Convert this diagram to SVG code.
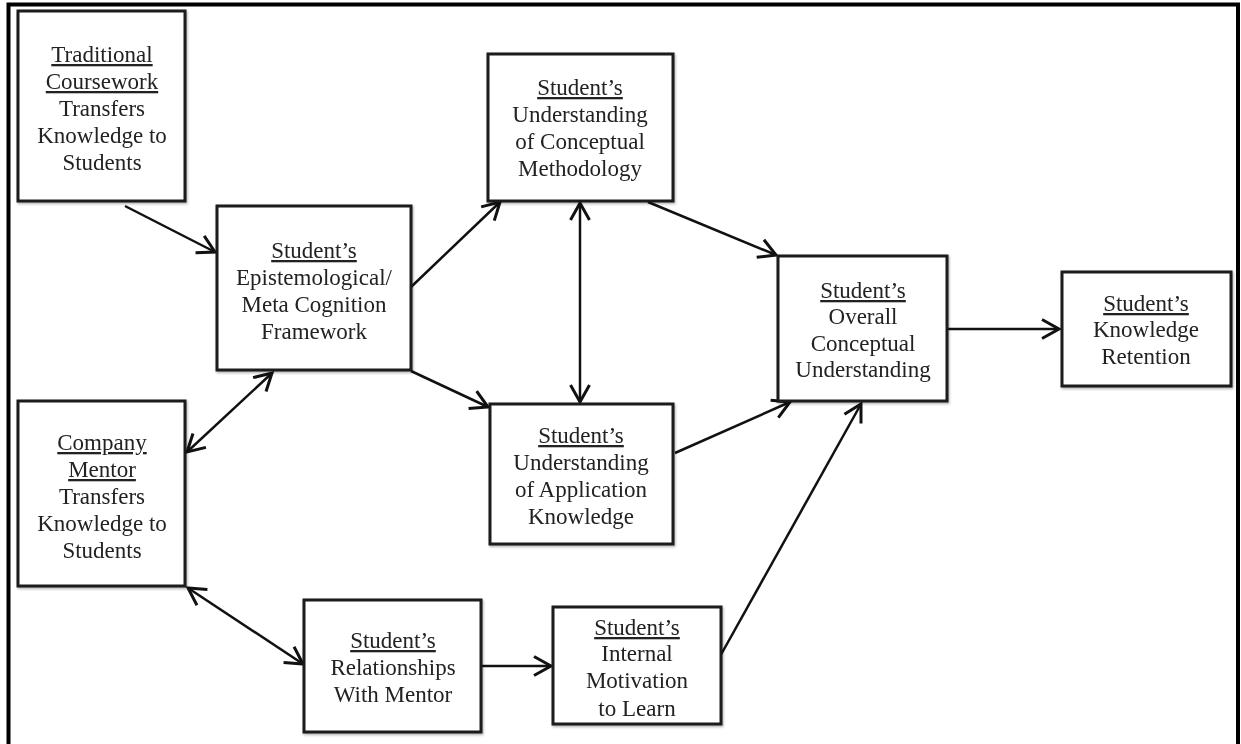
<svg xmlns="http://www.w3.org/2000/svg" width="1241" height="744" viewBox="0 0 1241 744">
  <style>
    .box { fill: #ffffff; stroke: #1a1a1a; stroke-width: 3; }
    .t { font-family: "Liberation Serif", "Times New Roman", serif; font-size: 23px; fill: #222222; text-anchor: middle; }
    .u { text-decoration: underline; }
    .c { fill: none; stroke: #111111; stroke-width: 2.5; }
  </style>
  <defs>
    <marker id="ah" viewBox="-20 -12 24 24" refX="0" refY="0" markerWidth="24" markerHeight="24" markerUnits="userSpaceOnUse" orient="auto-start-reverse">
      <path d="M-17,-9.5 L0,0 L-17,9.5" fill="none" stroke="#111111" stroke-width="3" stroke-linejoin="miter"/>
    </marker>
    <filter id="sh" x="-10%" y="-10%" width="120%" height="120%">
      <feDropShadow dx="1" dy="1.5" stdDeviation="1.2" flood-color="#000000" flood-opacity="0.3"/>
    </filter>
  </defs>
  <rect x="0" y="0" width="1241" height="744" fill="#ffffff"/>
  <rect x="8.5" y="4.5" width="1229.5" height="760" fill="none" stroke="#000000" stroke-width="4"/>

  <g id="connectors">
    <line class="c" x1="125" y1="206" x2="215" y2="252" marker-end="url(#ah)"/>
    <line class="c" x1="411" y1="287" x2="500" y2="202" marker-end="url(#ah)"/>
    <line class="c" x1="411" y1="371" x2="488" y2="407" marker-end="url(#ah)"/>
    <line class="c" x1="580" y1="203" x2="580" y2="402" marker-start="url(#ah)" marker-end="url(#ah)"/>
    <line class="c" x1="648" y1="202" x2="776" y2="255" marker-end="url(#ah)"/>
    <line class="c" x1="675" y1="453" x2="790" y2="402" marker-end="url(#ah)"/>
    <line class="c" x1="947" y1="329" x2="1059" y2="329" marker-end="url(#ah)"/>
    <line class="c" x1="272" y1="373" x2="187" y2="452" marker-start="url(#ah)" marker-end="url(#ah)"/>
    <line class="c" x1="188" y1="588" x2="303" y2="664" marker-start="url(#ah)" marker-end="url(#ah)"/>
    <line class="c" x1="481" y1="666" x2="551" y2="666" marker-end="url(#ah)"/>
    <line class="c" x1="718" y1="660" x2="861" y2="404" marker-end="url(#ah)"/>
  </g>

  <g id="traditional" filter="url(#sh)">
    <rect class="box" x="18" y="11" width="167" height="190"/>
    <text class="t" x="102" y="62"><tspan class="u">Traditional</tspan></text>
    <text class="t" x="102" y="89"><tspan class="u">Coursework</tspan></text>
    <text class="t" x="102" y="116">Transfers</text>
    <text class="t" x="102" y="143">Knowledge to</text>
    <text class="t" x="102" y="170">Students</text>
  </g>

  <g id="epistemological" filter="url(#sh)">
    <rect class="box" x="217" y="206" width="194" height="164"/>
    <text class="t" x="314" y="258"><tspan class="u">Student’s</tspan></text>
    <text class="t" x="314" y="285">Epistemological/</text>
    <text class="t" x="314" y="312">Meta Cognition</text>
    <text class="t" x="314" y="339">Framework</text>
  </g>

  <g id="conceptual-methodology" filter="url(#sh)">
    <rect class="box" x="488" y="54" width="185" height="147"/>
    <text class="t" x="580" y="95"><tspan class="u">Student’s</tspan></text>
    <text class="t" x="580" y="122">Understanding</text>
    <text class="t" x="580" y="149">of Conceptual</text>
    <text class="t" x="580" y="176">Methodology</text>
  </g>

  <g id="application-knowledge" filter="url(#sh)">
    <rect class="box" x="490" y="404" width="183" height="140"/>
    <text class="t" x="581" y="443"><tspan class="u">Student’s</tspan></text>
    <text class="t" x="581" y="470">Understanding</text>
    <text class="t" x="581" y="497">of Application</text>
    <text class="t" x="581" y="524">Knowledge</text>
  </g>

  <g id="overall" filter="url(#sh)">
    <rect class="box" x="778" y="256" width="169" height="145"/>
    <text class="t" x="863" y="298"><tspan class="u">Student’s</tspan></text>
    <text class="t" x="863" y="324">Overall</text>
    <text class="t" x="863" y="351">Conceptual</text>
    <text class="t" x="863" y="377">Understanding</text>
  </g>

  <g id="retention" filter="url(#sh)">
    <rect class="box" x="1062" y="272" width="169" height="114"/>
    <text class="t" x="1146" y="311"><tspan class="u">Student’s</tspan></text>
    <text class="t" x="1146" y="337">Knowledge</text>
    <text class="t" x="1146" y="364">Retention</text>
  </g>

  <g id="company-mentor" filter="url(#sh)">
    <rect class="box" x="18" y="401" width="167" height="185"/>
    <text class="t" x="102" y="450"><tspan class="u">Company</tspan></text>
    <text class="t" x="102" y="477"><tspan class="u">Mentor</tspan></text>
    <text class="t" x="102" y="504">Transfers</text>
    <text class="t" x="102" y="531">Knowledge to</text>
    <text class="t" x="102" y="558">Students</text>
  </g>

  <g id="relationships" filter="url(#sh)">
    <rect class="box" x="304" y="600" width="177" height="132"/>
    <text class="t" x="393" y="648"><tspan class="u">Student’s</tspan></text>
    <text class="t" x="393" y="675">Relationships</text>
    <text class="t" x="393" y="702">With Mentor</text>
  </g>

  <g id="motivation" filter="url(#sh)">
    <rect class="box" x="553" y="607" width="168" height="117"/>
    <text class="t" x="637" y="635"><tspan class="u">Student’s</tspan></text>
    <text class="t" x="637" y="661">Internal</text>
    <text class="t" x="637" y="688">Motivation</text>
    <text class="t" x="637" y="716">to Learn</text>
  </g>
</svg>
